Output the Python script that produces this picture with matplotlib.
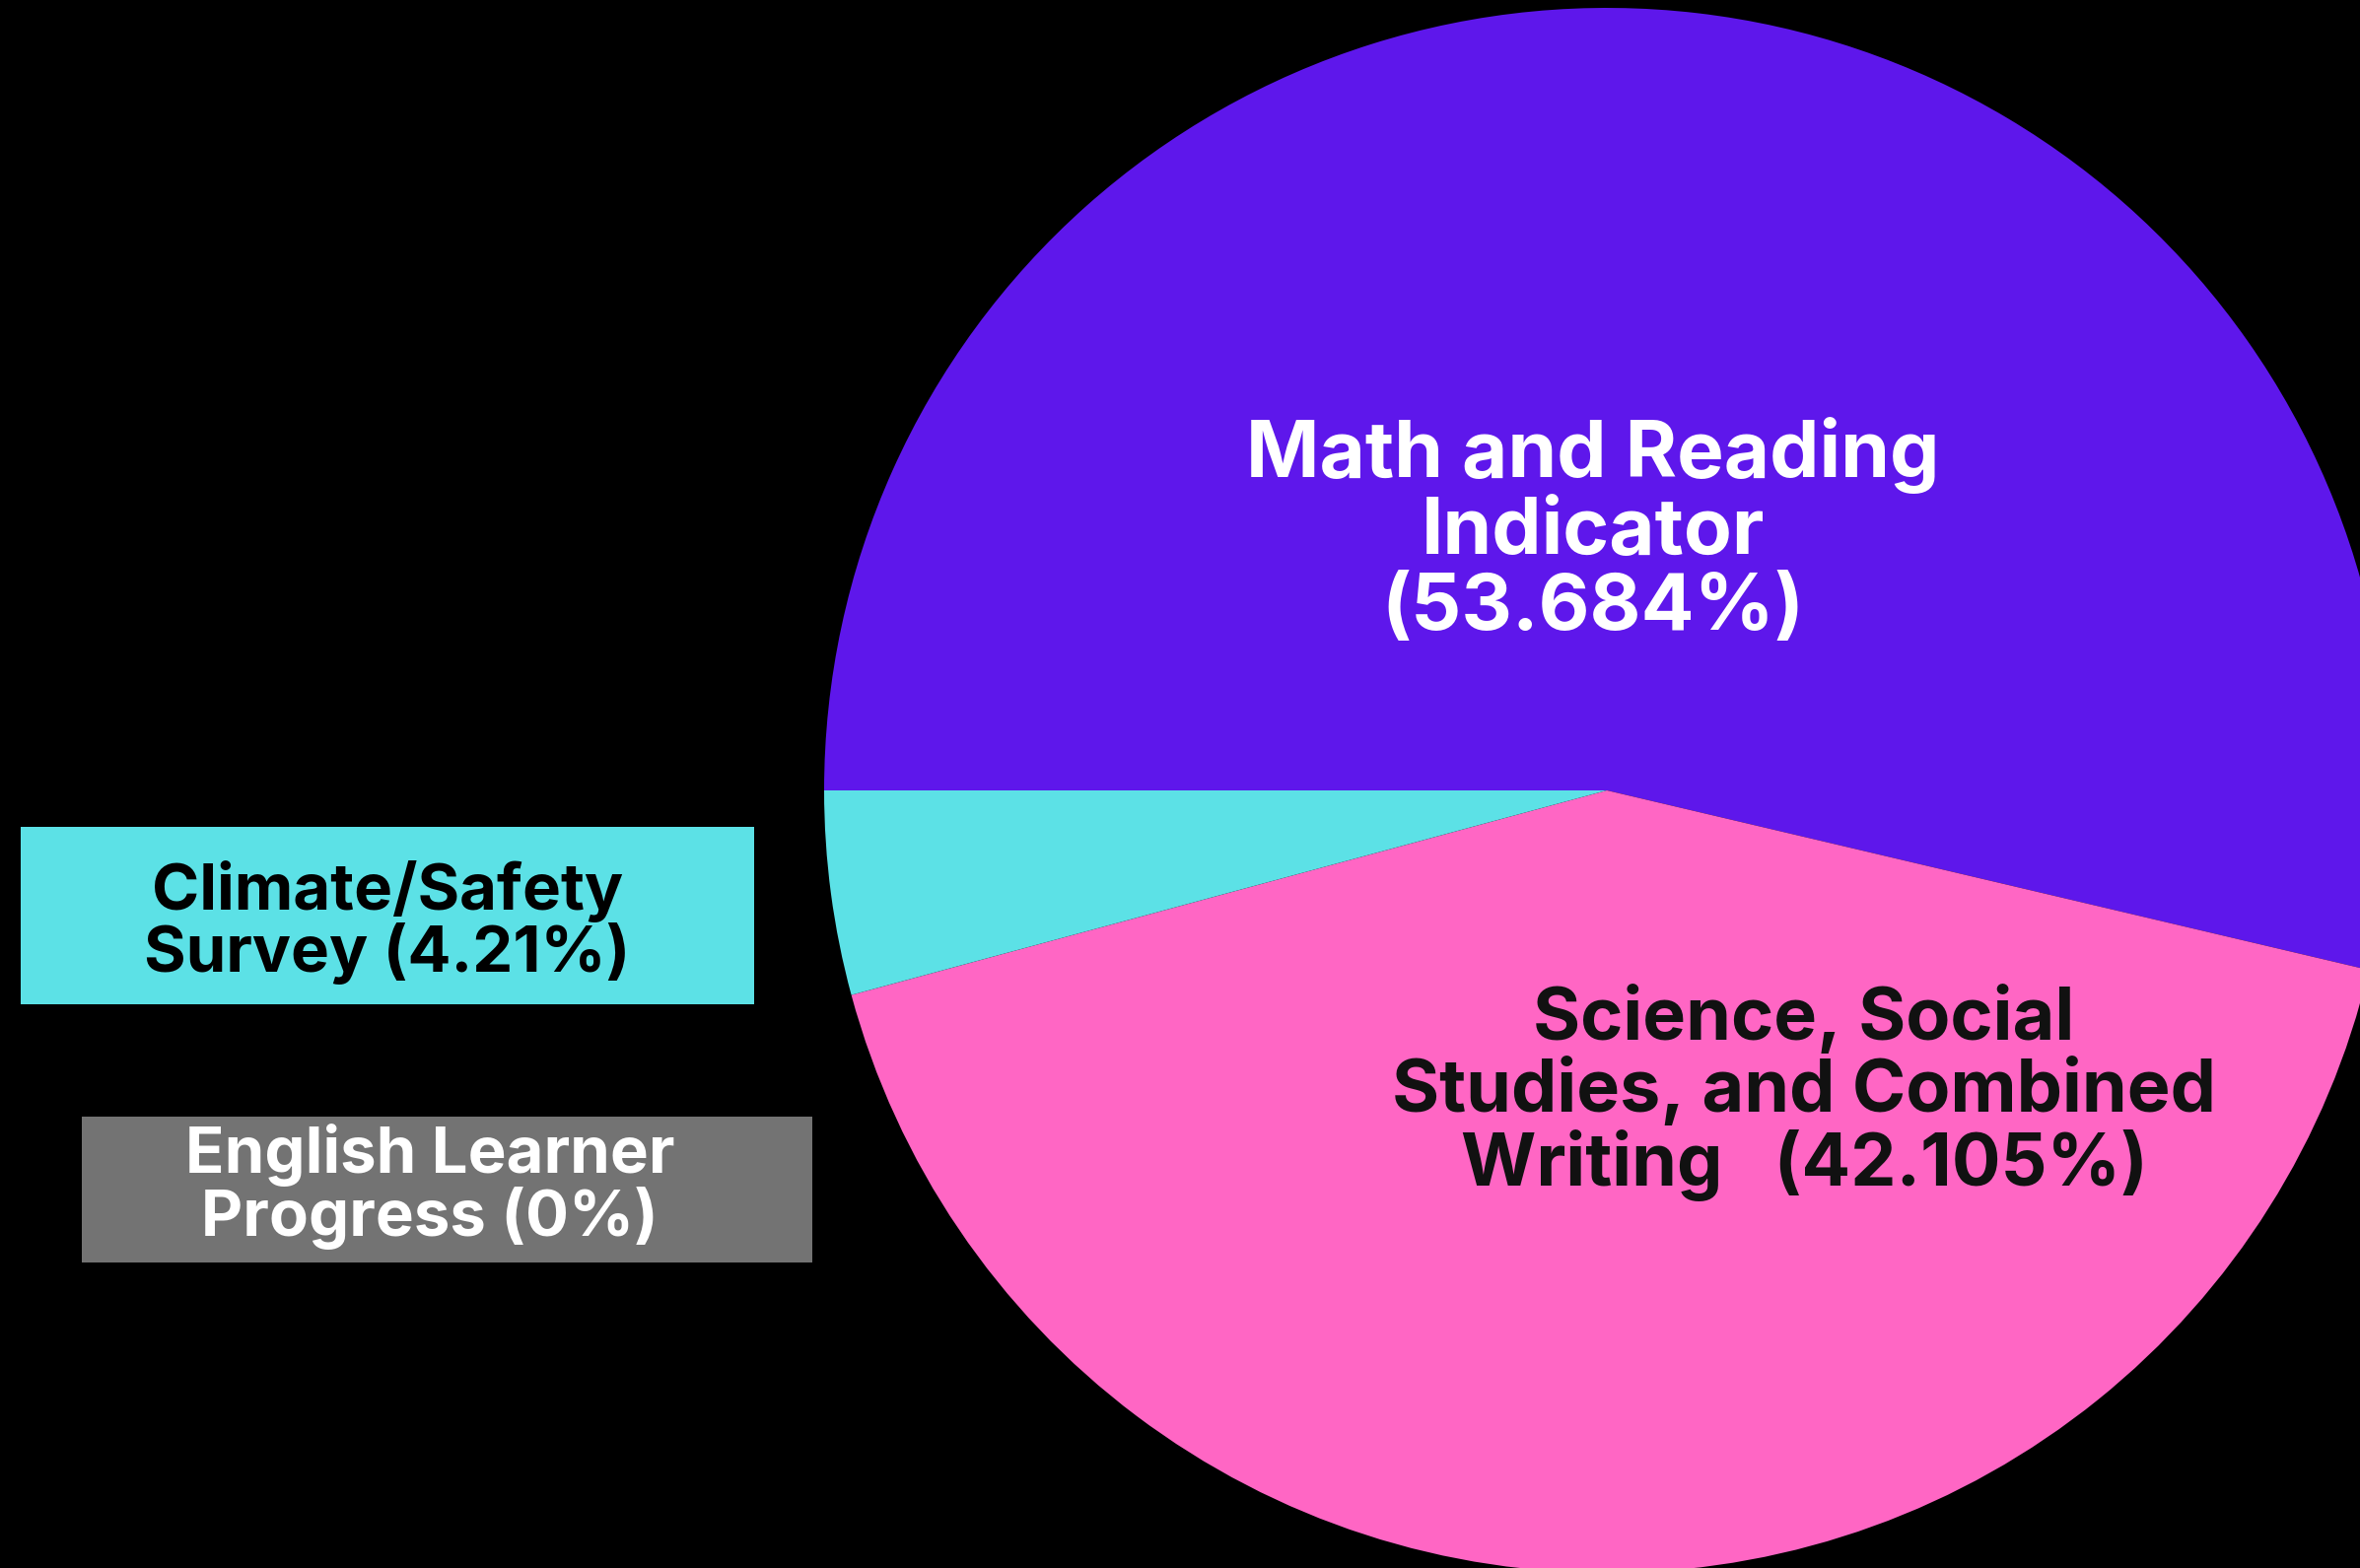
import matplotlib.pyplot as plt
from matplotlib.patches import Rectangle

# --------------------- Data ------------------------
labels = ["Math and Reading\nIndicator\n(53.684%)",
          "Science, Social\nStudies, and Combined\nWriting   (42.105%)",
          "Climate/Safety\nSurvey (4.21%)",
          "English Learner\nProgress (0%)"]
values = [53.684, 42.105, 4.21, 0.0]
colors = ["#5E17EB", "#FF66C4", "#5CE1E6", "#737373"]
text_colors = ["white", "#111111", "black", "white"]

W, H = 2394, 1591

fig = plt.figure(figsize=(W / 100, H / 100), dpi=100, facecolor="black")
ax = fig.add_axes([0, 0, 1, 1])
ax.set_facecolor("black")

# pie, clockwise from 9 o'clock
ax.pie(values, colors=colors, startangle=180, counterclock=False,
       center=(1630, H - 802), radius=794,
       wedgeprops=dict(linewidth=0))
ax.set_xlim(0, W)
ax.set_ylim(0, H)
ax.set_aspect("equal")
ax.axis("off")

font = dict(family="Inter", fontweight="bold", ha="center", va="center")

# labels inside the two big slices
ax.text(1616, H - 539, labels[0], color=text_colors[0], fontsize=57.6,
        linespacing=1.05, **font)
ax.text(1830, H - 1109, labels[1], color=text_colors[1], fontsize=53,
        linespacing=1.05, **font)

# boxed labels for the small slices
ax.add_patch(Rectangle((21, H - 1019), 744, 180, color=colors[2], lw=0))
ax.text(393, H - 936, labels[2], color=text_colors[2], fontsize=47,
        linespacing=1.0, **font)
ax.add_patch(Rectangle((83, H - 1281), 741, 148, color=colors[3], lw=0))
ax.text(436, H - 1204, labels[3], color=text_colors[3], fontsize=47,
        linespacing=1.0, **font)

fig.savefig("out.png", dpi=100, facecolor="black")
